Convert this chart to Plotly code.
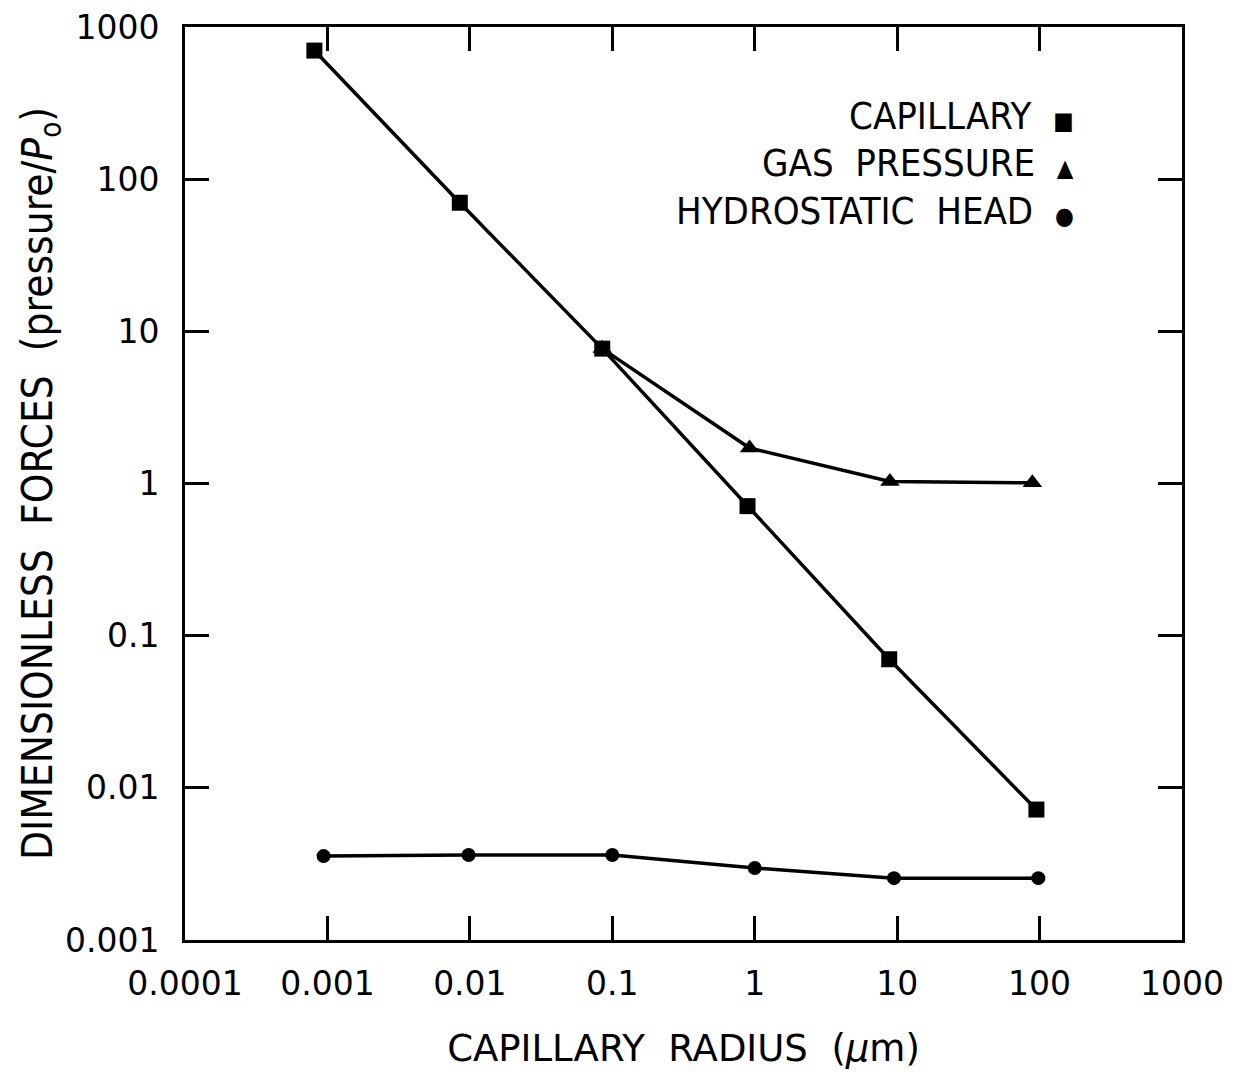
import plotly.graph_objects as go

# ---- data ----
cap_x = [0.00081, 0.0085, 0.085, 0.89, 8.8, 95]
cap_y = [700, 70, 7.7, 0.71, 0.070, 0.0072]

gas_x = [0.085, 0.92, 8.9, 89]
gas_y = [7.7, 1.71, 1.03, 1.01]

hyd_x = [0.00094, 0.0098, 0.1, 1.0, 9.5, 98]
hyd_y = [0.00356, 0.00362, 0.00362, 0.00297, 0.00255, 0.00255]

x_tickvals = [0.0001, 0.001, 0.01, 0.1, 1, 10, 100, 1000]
x_ticktext = ["0.0001", "0.001", "0.01", "0.1", "1", "10", "100", "1000"]
y_tickvals = [0.001, 0.01, 0.1, 1, 10, 100, 1000]
y_ticktext = ["0.001", "0.01", "0.1", "1", "10", "100", "1000"]

legend_labels = ["CAPILLARY", "GAS  PRESSURE", "HYDROSTATIC  HEAD"]
legend_symbols = ["\u25a0", "\u25b2", "\u25cf"]

TICKFONT = dict(family="DejaVu Sans", size=33, color="black")
COND = "DejaVu Sans Condensed"

fig = go.Figure()
fig.add_trace(go.Scatter(x=gas_x, y=gas_y, mode="lines+markers",
                         line=dict(color="black", width=3.5),
                         marker=dict(symbol="triangle-up", size=17, color="black"),
                         showlegend=False))
fig.add_trace(go.Scatter(x=cap_x, y=cap_y, mode="lines+markers",
                         line=dict(color="black", width=3.5),
                         marker=dict(symbol="square", size=16, color="black"),
                         showlegend=False))
fig.add_trace(go.Scatter(x=hyd_x, y=hyd_y, mode="lines+markers",
                         line=dict(color="black", width=3.5),
                         marker=dict(symbol="circle", size=14, color="black"),
                         showlegend=False))

for i, (lab, sym) in enumerate(zip(legend_labels, legend_symbols)):
    fig.add_annotation(text=lab + '  <span style="font-size:24px">' + sym + '</span>',
                       xref="paper", yref="paper", x=0.894, y=0.902 - i * 0.0515,
                       xanchor="right", yanchor="middle", showarrow=False,
                       font=dict(family=COND, size=38, color="black"))

axis_common = dict(showline=True, linecolor="black", linewidth=3, mirror="ticks",
                   ticks="inside", ticklen=24, tickwidth=3, tickcolor="black",
                   showgrid=False, zeroline=False, tickfont=TICKFONT)

fig.update_xaxes(type="log", range=[-4, 3], tickvals=x_tickvals, ticktext=x_ticktext,
                 ticklabelstandoff=12,
                 title=dict(text="CAPILLARY  RADIUS  (<i>\u03bc</i>m)",
                            font=dict(family="DejaVu Sans", size=37, color="black"),
                            standoff=34),
                 **axis_common)
fig.update_yaxes(type="log", range=[-3, 3], tickvals=y_tickvals, ticktext=y_ticktext,
                 ticklabelstandoff=16,
                 title=dict(text="DIMENSIONLESS  FORCES  (pressure/<i>P</i><sub>o</sub>)",
                            font=dict(family=COND, size=42, color="black"),
                            standoff=0),
                 **axis_common)

fig.update_layout(width=1237, height=1073, plot_bgcolor="white", paper_bgcolor="white",
                  margin=dict(l=185, r=55, t=27, b=133, autoexpand=False))

fig.write_html("out.html")
